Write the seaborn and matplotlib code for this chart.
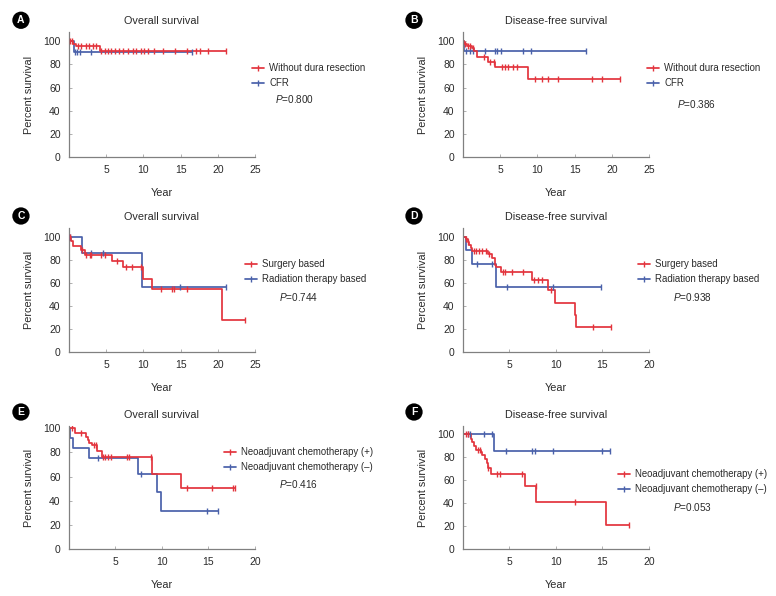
import numpy as np
import matplotlib
matplotlib.use("Agg")
import matplotlib.pyplot as plt
from matplotlib.lines import Line2D
import seaborn as sns

# ---- data ----
RED = "#e3343d"
BLUE = "#4a61aa"

# A: overall survival, dura resection
a_red_t = [0, 0.6, 0.9, 4.2]
a_red_s = [100, 97.5, 96, 91.7]
a_red_end = 21.1
a_red_cens = [0.2, 0.45, 1.2, 1.65, 2.25, 2.7, 3.2, 3.65, 4.35, 4.9, 5.25, 5.7, 6.15, 6.7,
              7.25, 7.9, 8.6, 9.05, 9.7, 10.05, 10.6, 11.4, 12.7, 14.2, 15.8, 17.1, 17.6, 18.7, 21.1]
a_blue_t = [0, 0.65]
a_blue_s = [100, 91]
a_blue_end = 16.6
a_blue_cens = [0.75, 1.05, 1.45, 3.0, 16.6]

# B: disease-free survival, dura resection
b_red_t = [0, 0.2, 0.55, 1.2, 1.55, 1.95, 3.3, 4.3, 8.8]
b_red_s = [100, 98, 96, 94, 92, 86, 82, 77.5, 67.5]
b_red_end = 21.1
b_red_cens = [0.25, 0.7, 1.0, 1.35, 2.8, 3.7, 4.2, 5.2, 5.7, 6.0, 6.7, 7.2, 9.7, 10.6,
              11.4, 12.8, 17.4, 18.7, 21.1]
b_blue_t = [0, 0.1]
b_blue_s = [100, 92]
b_blue_end = 16.6
b_blue_cens = [0.45, 0.9, 1.3, 3.0, 4.3, 4.55, 5.1, 8.1, 9.2, 16.6]

# C: overall survival, treatment
c_red_t = [0, 0.3, 0.6, 1.6, 2.1, 5.8, 7.3, 10.0, 11.2, 20.5]
c_red_s = [100, 97, 92.5, 88.5, 84.5, 79, 74, 64, 55, 27.5]
c_red_end = 23.7
c_red_cens = [0.2, 1.8, 2.3, 2.8, 3.0, 4.3, 4.9, 6.4, 7.7, 8.5, 9.7, 12.4, 13.8, 14.1, 15.9, 23.7]
c_blue_t = [0, 1.7, 9.85]
c_blue_s = [100, 86, 56.5]
c_blue_end = 21.1
c_blue_cens = [0.2, 3.0, 4.6, 14.9, 21.1]

# D: disease-free survival, treatment
d_red_t = [0, 0.3, 0.5, 0.65, 0.85, 1.0, 2.65, 3.1, 3.4, 3.6, 4.05, 7.4, 9.1, 9.9, 12.1, 12.2]
d_red_s = [100, 98.5, 96, 93, 90.5, 88, 85, 82, 76, 74, 70, 63, 54, 43, 32, 21.5]
d_red_end = 15.9
d_red_cens = [0.3, 0.55, 1.2, 1.35, 1.7, 2.0, 2.45, 2.75, 4.35, 4.55, 5.25, 6.5, 7.65,
              8.05, 8.55, 9.5, 14.0, 15.9]
d_blue_t = [0, 0.3, 1.0, 3.5]
d_blue_s = [100, 89, 76.5, 57]
d_blue_end = 14.8
d_blue_cens = [1.55, 3.1, 4.7, 9.65, 14.8]

# E: overall survival, neoadjuvant chemotherapy
e_red_t = [0, 0.7, 1.8, 2.0, 2.2, 2.5, 3.0, 3.6, 8.95, 12.0]
e_red_s = [100, 96, 93, 90, 88, 86, 81.5, 76, 62.5, 50.5]
e_red_end = 17.8
e_red_cens = [0.35, 1.3, 2.65, 2.9, 3.7, 3.9, 4.2, 4.55, 6.25, 6.4, 8.85, 12.7, 15.4, 17.6, 17.8]
e_blue_t = [0, 0.15, 0.4, 2.2, 7.4, 9.5, 9.9]
e_blue_s = [100, 92, 83.5, 75.5, 62.5, 47, 31.5]
e_blue_end = 16.0
e_blue_cens = [3.1, 7.7, 14.8, 16.0]

# F: disease-free survival, neoadjuvant chemotherapy
f_red_t = [0, 0.85, 1.0, 1.2, 1.35, 1.95, 2.05, 2.35, 2.55, 2.65, 3.0, 6.7, 7.9, 15.4]
f_red_s = [100, 96, 93, 90, 86.5, 84.5, 81.5, 78.5, 74.5, 70.5, 65, 54.5, 40.5, 20.5]
f_red_end = 17.8
f_red_cens = [0.35, 0.5, 1.6, 1.85, 2.7, 3.7, 4.0, 6.4, 7.8, 12.0, 17.8]
f_blue_t = [0, 3.35]
f_blue_s = [100, 85]
f_blue_end = 15.8
f_blue_cens = [0.55, 0.8, 2.25, 3.1, 4.6, 7.45, 7.75, 9.7, 14.9, 15.8]

letters = ["A", "B", "C", "D", "E", "F"]
titles = ["Overall survival", "Disease-free survival"] * 3
legend_labels = [
    ["Without dura resection", "CFR"],
    ["Without dura resection", "CFR"],
    ["Surgery based", "Radiation therapy based"],
    ["Surgery based", "Radiation therapy based"],
    ["Neoadjuvant chemotherapy (+)", "Neoadjuvant chemotherapy (\u2013)"],
    ["Neoadjuvant chemotherapy (+)", "Neoadjuvant chemotherapy (\u2013)"],
]
p_values = ["0.800", "0.386", "0.744", "0.938", "0.416", "0.053"]
x_max = [25, 25, 25, 20, 20, 20]
y_top = [108, 108, 108, 108, 102, 107]

curves = [
    ((a_red_t, a_red_s, a_red_end, a_red_cens), (a_blue_t, a_blue_s, a_blue_end, a_blue_cens)),
    ((b_red_t, b_red_s, b_red_end, b_red_cens), (b_blue_t, b_blue_s, b_blue_end, b_blue_cens)),
    ((c_red_t, c_red_s, c_red_end, c_red_cens), (c_blue_t, c_blue_s, c_blue_end, c_blue_cens)),
    ((d_red_t, d_red_s, d_red_end, d_red_cens), (d_blue_t, d_blue_s, d_blue_end, d_blue_cens)),
    ((e_red_t, e_red_s, e_red_end, e_red_cens), (e_blue_t, e_blue_s, e_blue_end, e_blue_cens)),
    ((f_red_t, f_red_s, f_red_end, f_red_cens), (f_blue_t, f_blue_s, f_blue_end, f_blue_cens)),
]

# layout (figure fractions) and annotation spots (axes fractions)
lefts = [0.0889, 0.5966]
bottoms = [0.7366, 0.4094, 0.0789]
heights = [0.2097, 0.2080, 0.2064]
width = 0.2397
leg_pos = [(0.984, 0.751), (0.989, 0.751), (0.946, 0.749),
           (0.940, 0.749), (0.833, 0.828), (0.833, 0.650)]
p_pos = [(1.108, 0.464), (1.151, 0.424), (1.129, 0.444),
         (1.129, 0.444), (1.129, 0.528), (1.129, 0.341)]

sns.set_style("ticks")
plt.rcParams["font.family"] = ["Liberation Sans", "DejaVu Sans"]
plt.rcParams["mathtext.fontset"] = "custom"
plt.rcParams["mathtext.it"] = "Liberation Sans:italic"
plt.rcParams["mathtext.rm"] = "Liberation Sans"
TXT = "#2a2a2a"
SPINE = "#808080"
FS = 7.8
FS_LEG = 6.9


def surv_at(times, surv, t):
    i = np.searchsorted(times, t, side="right") - 1
    return surv[i]


fig = plt.figure(figsize=(7.76, 5.96), dpi=100)

for k in range(6):
    row, col = k // 2, k % 2
    ax = fig.add_axes([lefts[col], bottoms[row], width, heights[row]])

    for (t, s, end, cens), color in [(curves[k][1], BLUE), (curves[k][0], RED)]:
        xs = list(t) + [end]
        ys = list(s) + [s[-1]]
        sns.lineplot(x=xs, y=ys, ax=ax, color=color, linewidth=1.25,
                     drawstyle="steps-post", estimator=None, sort=False)
        cy = [surv_at(np.array(t), np.array(s), c) for c in cens]
        sns.scatterplot(x=cens, y=cy, ax=ax, marker="|", s=16, color=color,
                        linewidth=1.0, zorder=3)

    ax.set_xlim(0, x_max[k])
    ax.set_ylim(0, y_top[k])
    ax.set_xticks(np.arange(5, x_max[k] + 1, 5))
    ax.set_yticks(np.arange(0, 101, 20))
    for side in ["top", "right"]:
        ax.spines[side].set_visible(False)
    for side in ["left", "bottom"]:
        ax.spines[side].set_color(SPINE)
        ax.spines[side].set_linewidth(0.9)
    ax.tick_params(direction="in", length=2.5, width=0.7, color="#b0b0b0",
                   labelsize=7.5, labelcolor=TXT, pad=6)
    ax.set_xlabel("Year", fontsize=FS, color=TXT, labelpad=9)
    ax.set_ylabel("Percent survival", fontsize=FS, color=TXT, labelpad=7)
    ax.set_title(titles[k], fontsize=FS, color=TXT, pad=6)

    handles = [Line2D([0], [0], color=RED, lw=1.25, marker="|", markersize=4, mew=1),
               Line2D([0], [0], color=BLUE, lw=1.25, marker="|", markersize=4, mew=1)]
    ax.legend(handles, legend_labels[k], loc="upper left", bbox_to_anchor=leg_pos[k],
              frameon=False, fontsize=FS_LEG, handlelength=1.3, handletextpad=0.5,
              labelspacing=0.55, borderpad=0, borderaxespad=0, labelcolor=TXT)
    ax.text(p_pos[k][0], p_pos[k][1], "$P$=" + p_values[k], transform=ax.transAxes,
            fontsize=7.2, color=TXT, ha="left", va="center")

    fx = 0.027 if col == 0 else 0.5335
    fy = [0.966, 0.6376, 0.3087][row]
    fig.text(fx, fy, letters[k], ha="center", va="center", color="white",
             fontsize=7.5, fontweight="bold",
             bbox=dict(boxstyle="circle,pad=0.35", fc="black", ec="none"))

fig.savefig("out.png", dpi=100)
